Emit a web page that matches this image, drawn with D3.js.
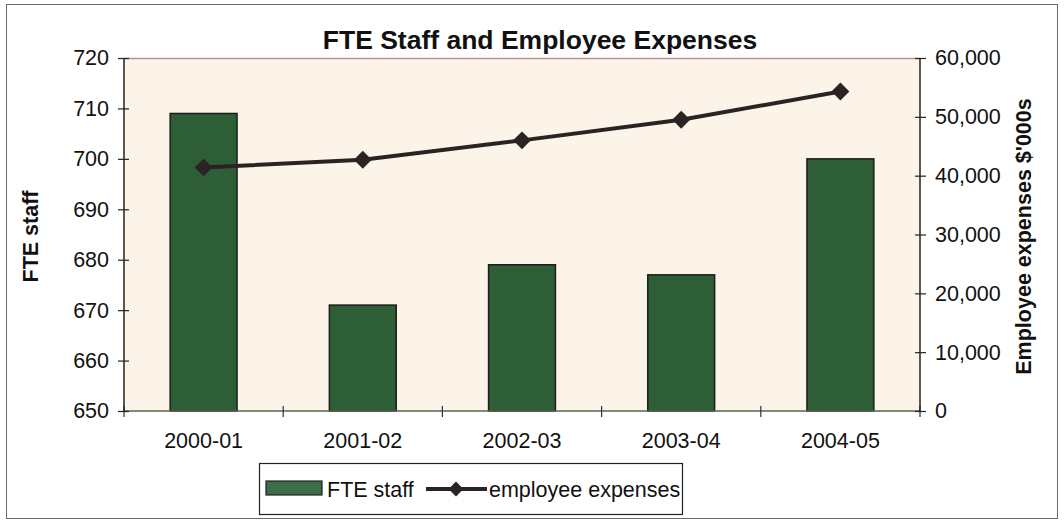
<!DOCTYPE html>
<html>
<head>
<meta charset="utf-8">
<script src="https://cdn.jsdelivr.net/npm/d3@7"></script>
<style>
  html, body { margin: 0; padding: 0; background: #ffffff; }
  svg { display: block; }
  text { font-family: "Liberation Sans", Arial, sans-serif; fill: #111; }
</style>
</head>
<body>
<svg id="chart" width="1064" height="522"></svg>
<script>
// Financial years shown along the bottom
const categories = ["2000-01", "2001-02", "2002-03", "2003-04", "2004-05"];
// Full-time-equivalent staff (left axis)
const fteStaff = [709, 671, 679, 677, 700];
// Employee expenses in $'000s (right axis)
const employeeExpenses = [41400, 42700, 46000, 49500, 54300];
// Tick values for both value axes
const leftTicks = [650, 660, 670, 680, 690, 700, 710, 720];
const rightTicks = [0, 10000, 20000, 30000, 40000, 50000, 60000];

const svg = d3.select("#chart");
const plot = { left: 124, right: 920, top: 58, bottom: 411 };
const FONT = "Liberation Sans, Arial, sans-serif";

const x = d3.scaleBand().domain(categories).range([plot.left, plot.right]).padding(0);
const yLeft = d3.scaleLinear().domain([650, 720]).range([plot.bottom, plot.top]);
const yRight = d3.scaleLinear().domain([0, 60000]).range([plot.bottom, plot.top]);

// Outer frame
svg.append("rect")
  .attr("x", 6.5).attr("y", 4.5).attr("width", 1051).attr("height", 514)
  .attr("fill", "none").attr("stroke", "#6a6a6a").attr("stroke-width", 1);

// Plot background
svg.append("rect")
  .attr("x", plot.left).attr("y", plot.top)
  .attr("width", plot.right - plot.left).attr("height", plot.bottom - plot.top)
  .attr("fill", "#fcf4e8");
svg.append("line")
  .attr("x1", plot.left).attr("x2", plot.right)
  .attr("y1", plot.top + 0.5).attr("y2", plot.top + 0.5)
  .attr("stroke", "#b99090").attr("stroke-width", 1.5);

// Title
svg.append("text")
  .attr("x", 540).attr("y", 49)
  .attr("text-anchor", "middle")
  .attr("font-size", 26.5).attr("font-weight", "bold")
  .text("FTE Staff and Employee Expenses");

// Bars
const barW = x.bandwidth() * 0.42;
svg.append("g").selectAll("rect")
  .data(categories.map((c, i) => ({ c, v: fteStaff[i] })))
  .join("rect")
  .attr("x", d => x(d.c) + (x.bandwidth() - barW) / 2)
  .attr("y", d => yLeft(d.v))
  .attr("width", barW)
  .attr("height", d => yLeft(650) - yLeft(d.v))
  .attr("fill", "#2d5e35")
  .attr("stroke", "#1c1c1c")
  .attr("stroke-width", 1.5);

// Bottom axis line and category ticks between bands
svg.append("line")
  .attr("x1", plot.left).attr("x2", plot.right)
  .attr("y1", plot.bottom).attr("y2", plot.bottom)
  .attr("stroke", "#556655").attr("stroke-width", 1.5);
const boundaries = categories.map(c => x(c)).concat([x(categories[categories.length - 1]) + x.bandwidth()]);
svg.append("g").selectAll("line")
  .data(boundaries)
  .join("line")
  .attr("x1", d => d).attr("x2", d => d)
  .attr("y1", plot.bottom - 5).attr("y2", plot.bottom + 6)
  .attr("stroke", "#333").attr("stroke-width", 1.2);

const xAxis = svg.append("g")
  .attr("transform", `translate(0,${plot.bottom})`)
  .call(d3.axisBottom(x).tickSize(0).tickPadding(22));
xAxis.select(".domain").remove();
xAxis.selectAll("text").attr("font-size", 21.5).attr("font-family", FONT).attr("fill", "#111");

// Left axis
const leftAxis = svg.append("g")
  .attr("transform", `translate(${plot.left},0)`)
  .call(d3.axisLeft(yLeft).tickValues(leftTicks).tickSize(6).tickPadding(9));
leftAxis.select(".domain").attr("stroke", "#222").attr("stroke-width", 1.5).attr("d", `M0,${plot.top}V${plot.bottom}`);
leftAxis.selectAll(".tick line").attr("x1", 5).attr("stroke", "#222").attr("stroke-width", 1.2);
leftAxis.selectAll("text").attr("font-size", 21.5).attr("font-family", FONT).attr("fill", "#111");

// Right axis
const rightAxis = svg.append("g")
  .attr("transform", `translate(${plot.right},0)`)
  .call(d3.axisRight(yRight).tickValues(rightTicks).tickSize(6).tickPadding(9).tickFormat(d3.format(",")));
rightAxis.select(".domain").attr("stroke", "#222").attr("stroke-width", 1.5).attr("d", `M0,${plot.top}V${plot.bottom}`);
rightAxis.selectAll(".tick line").attr("x1", -5).attr("stroke", "#222").attr("stroke-width", 1.2);
rightAxis.selectAll("text").attr("font-size", 21.5).attr("font-family", FONT).attr("fill", "#111");

// Axis titles
svg.append("text")
  .attr("transform", `translate(38,${(plot.top + plot.bottom) / 2 + 2}) rotate(-90)`)
  .attr("text-anchor", "middle")
  .attr("font-size", 21.5).attr("font-weight", "bold")
  .text("FTE staff");
svg.append("text")
  .attr("transform", `translate(1031,${(plot.top + plot.bottom) / 2 + 2}) rotate(-90)`)
  .attr("text-anchor", "middle")
  .attr("font-size", 21.5).attr("font-weight", "bold")
  .text("Employee expenses $'000s");

// Expenses line with diamond markers
const linePts = categories.map((c, i) => ({ c, v: employeeExpenses[i] }));
const line = d3.line()
  .x(d => x(d.c) + x.bandwidth() / 2)
  .y(d => yRight(d.v));
svg.append("path")
  .datum(linePts)
  .attr("d", line)
  .attr("fill", "none")
  .attr("stroke", "#2b2323")
  .attr("stroke-width", 4);
svg.append("g").selectAll("path")
  .data(linePts)
  .join("path")
  .attr("transform", d => `translate(${x(d.c) + x.bandwidth() / 2},${yRight(d.v)}) rotate(45)`)
  .attr("d", d3.symbol().type(d3.symbolSquare).size(160))
  .attr("fill", "#2b2323");

// Legend
const lg = svg.append("g");
lg.append("rect")
  .attr("x", 259.5).attr("y", 463.5).attr("width", 423).attr("height", 51)
  .attr("fill", "#ffffff").attr("stroke", "#222").attr("stroke-width", 1.2);
lg.append("rect")
  .attr("x", 266).attr("y", 481).attr("width", 56).attr("height", 14)
  .attr("fill", "#3a6e48").attr("stroke", "#222").attr("stroke-width", 1.2);
lg.append("text")
  .attr("x", 327).attr("y", 497)
  .attr("font-size", 21.5)
  .text("FTE staff");
lg.append("line")
  .attr("x1", 426).attr("x2", 487).attr("y1", 489).attr("y2", 489)
  .attr("stroke", "#2b2323").attr("stroke-width", 4);
lg.append("path")
  .attr("transform", "translate(456,489) rotate(45)")
  .attr("d", d3.symbol().type(d3.symbolSquare).size(110))
  .attr("fill", "#2b2323");
lg.append("text")
  .attr("x", 489).attr("y", 497)
  .attr("font-size", 21.5)
  .text("employee expenses");
</script>
</body>
</html>
